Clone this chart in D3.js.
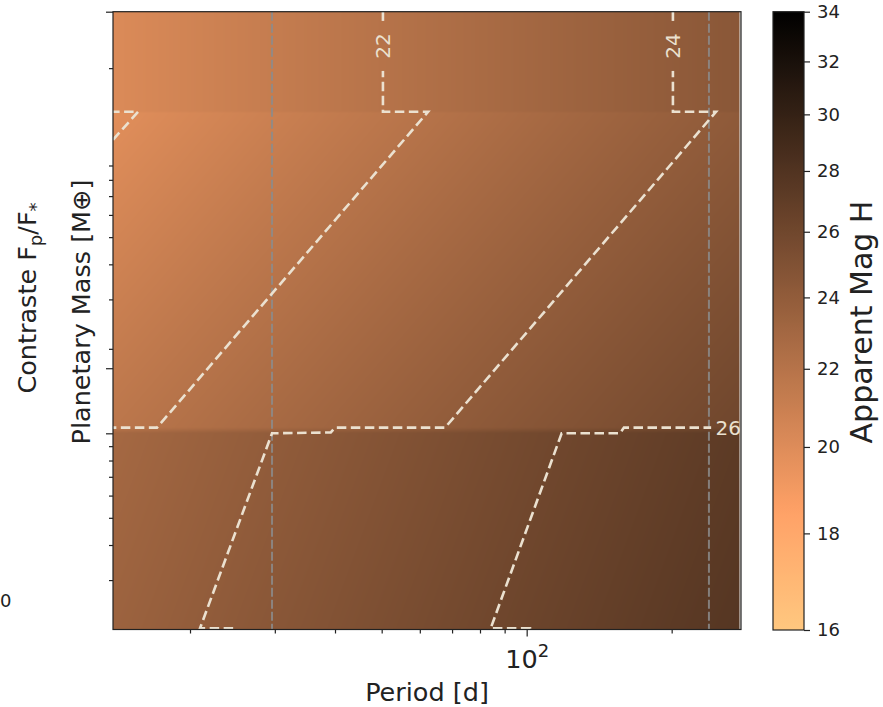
<!DOCTYPE html>
<html><head><meta charset="utf-8">
<script src="https://cdn.jsdelivr.net/npm/d3@7"></script>
<style>
body{margin:0;background:#fff}
text{font-family:"DejaVu Sans",sans-serif}
</style>
</head><body>
<svg id="chart" width="883" height="707"></svg>
<script>
// ---------------- data ----------------
const periodDomain   = [13.84, 278.6];     // Period [d], log axis
const massDomain     = [2, 317.8];         // Planetary mass [M_earth], log axis
const contrastDomain = [1.85e-9, 1e-7];    // Contraste Fp/F*, log axis (twin, unlabelled ticks)
const magDomain      = [16, 34];           // colour bar (log norm)

// apparent H magnitude grid: rows = masses, columns = periods
const gridPeriods = [13.84, 100, 276.5];
const gridMasses  = [317.8, 141, 138.5, 10.48, 10.0, 2.03, 2.0];
const magAtP0 = [20.13, 20.13, 19.82, 21.70, 22.90, 23.40, 23.14];
const magAtP1 = [22.99, 22.99, 22.68, 24.56, 25.76, 26.26, 26.00];
const magAtP2 = [24.47, 24.47, 24.16, 26.03, 27.24, 27.73, 27.48];

// dashed contour lines [period, mass]
const contour20 = [[13.84,111.1],[15.60,139.8],[13.84,139.8]];
const contour22 = [[50.3,317.8],[50.3,139.8],[62.4,139.8],[17.08,10.48],[13.84,10.48]];
const contour24 = [[201.2,317.8],[201.2,139.8],[247.2,139.8],[67.7,10.48],[40.0,10.48],[39.2,10.07],[29.6,10.0],[20.98,2.02],[25.04,2.02],[25.04,2.0]];
const contour26 = [[278.6,10.48],[159.2,10.48],[156.2,10.0],[118.2,10.0],[84.2,2.02],[101.6,2.02],[101.6,2.0]];
const contourLines = [contour20, contour22, contour24, contour26];
const contourLabels = [
  {text:"22", period:50.3,  mass:240, rotate:-90},
  {text:"24", period:201.2, mass:240, rotate:-90},
  {text:"26", period:262,   mass:10.48, rotate:0}
];

const referencePeriods = [29.6, 239.0];   // grey dashed vertical lines

const xTicksMajor = [100];
const xTicksMinor = [20,30,40,50,60,70,80,90,200];
const yTicksMajor = [10];
const yTicksMinor = [3,4,5,6,7,8,9,20,30,40,50,60,70,80,90,200];
const contrastTicks = [1e-8, 1e-7];
const cbarTicks   = [16,18,20,22,24,26,28,30,32,34];

// ---------------- layout ----------------
const W = 883, H = 707;
const L = 113, R = 741, T = 11.7, B = 629.5;
const svg = d3.select("#chart");

const x = d3.scaleLog().domain(periodDomain).range([L, R]);
const y = d3.scaleLog().domain(massDomain).range([B, T]);
const yc = d3.scaleLog().domain(contrastDomain).range([B, T]);
const cbar = d3.scaleLog().domain(magDomain).range([630, 11.7]);

// copper_r colormap with log normalisation
function copperR(mag){
  const n = Math.max(0, Math.min(1, Math.log(mag/magDomain[0]) / Math.log(magDomain[1]/magDomain[0])));
  const t = 1 - n;
  const r = Math.min(1, t/0.809524), g = 0.7812*t, b = 0.4975*t;
  return [Math.round(r*255), Math.round(g*255), Math.round(b*255)];
}

// ---------------- background image ----------------
const lgP = gridPeriods.map(Math.log10);
const lgM = gridMasses.map(Math.log10);
const cols = [magAtP0, magAtP1, magAtP2];
function rowMag(i, lp){
  let j = 0;
  while (j < lgP.length - 2 && lp > lgP[j+1]) j++;
  const f = (lp - lgP[j]) / (lgP[j+1] - lgP[j]);
  return cols[j][i]*(1-f) + cols[j+1][i]*f;
}
function magAt(p, m){
  const lp = Math.log10(p), lm = Math.log10(m);
  let i = 0;
  while (i < lgM.length - 2 && lm < lgM[i+1]) i++;
  const f = (lgM[i] - lm) / (lgM[i] - lgM[i+1]);
  return rowMag(i, lp)*(1-f) + rowMag(i+1, lp)*f;
}
const imgL = x(gridPeriods[0]), imgR = x(gridPeriods[gridPeriods.length-1]);
const cw = Math.round(imgR - imgL), ch = Math.round(B - T);
const canvas = document.createElement("canvas");
canvas.width = cw; canvas.height = ch;
const ctx = canvas.getContext("2d");
const img = ctx.createImageData(cw, ch);
for (let py = 0; py < ch; py++){
  const m = y.invert(T + py + 0.5);
  for (let px = 0; px < cw; px++){
    const p = x.invert(imgL + (px + 0.5) * (imgR - imgL) / cw);
    const c = copperR(magAt(p, m));
    const k = (py*cw + px)*4;
    img.data[k] = c[0]; img.data[k+1] = c[1]; img.data[k+2] = c[2]; img.data[k+3] = 255;
  }
}
ctx.putImageData(img, 0, 0);

const defs = svg.append("defs");
defs.append("clipPath").attr("id","plotclip").append("rect")
  .attr("x", L).attr("y", T).attr("width", R-L).attr("height", B-T);

svg.append("rect").attr("x", L).attr("y", T).attr("width", R-L).attr("height", B-T).attr("fill","#d9d6d3");
svg.append("image").attr("href", canvas.toDataURL())
  .attr("x", imgL).attr("y", T).attr("width", imgR-imgL).attr("height", B-T)
  .attr("preserveAspectRatio","none");

// reference vertical lines
const plot = svg.append("g").attr("clip-path","url(#plotclip)");
plot.selectAll("line.ref").data(referencePeriods).join("line")
  .attr("class","ref")
  .attr("x1", d=>x(d)).attr("x2", d=>x(d)).attr("y1", T).attr("y2", B)
  .attr("stroke","#8c8c8c").attr("stroke-width",2).attr("stroke-dasharray","9,3")
  .attr("opacity",0.85);

// mask to cut contour lines under labels
const mask = defs.append("mask").attr("id","labelmask");
mask.append("rect").attr("x",0).attr("y",0).attr("width",W).attr("height",H).attr("fill","#fff");
contourLabels.forEach(d=>{
  const cx = x(d.period), cy = y(d.mass);
  if (d.rotate === -90){
    mask.append("rect").attr("x", cx-10).attr("y", cy-25).attr("width",20).attr("height",50).attr("fill","#000");
  } else {
    mask.append("rect").attr("x", cx-17).attr("y", cy-10).attr("width",40).attr("height",20).attr("fill","#000");
  }
});

const lineGen = d3.line().x(d=>x(d[0])).y(d=>y(d[1]));
const contourColor = "#ebe1d0";
plot.append("g").attr("mask","url(#labelmask)")
  .selectAll("path").data(contourLines).join("path")
  .attr("d", lineGen).attr("fill","none")
  .attr("stroke", contourColor).attr("stroke-width",2.6)
  .attr("stroke-dasharray","9.5,4.5");

plot.selectAll("text.clabel").data(contourLabels).join("text")
  .attr("class","clabel")
  .attr("transform", d=>`translate(${x(d.period)},${y(d.mass)}) rotate(${d.rotate})`)
  .attr("text-anchor","middle").attr("dy","0.36em")
  .attr("font-size",20).attr("fill",contourColor)
  .text(d=>d.text);

// ---------------- axes ----------------
const axStroke = "#222";
function styleAxis(g){
  g.select(".domain").remove();
  g.selectAll("line").attr("stroke",axStroke).attr("stroke-width",1.2);
}
svg.append("g").attr("transform",`translate(0,${B})`)
  .call(d3.axisBottom(x).tickValues(xTicksMinor).tickSize(4).tickFormat(""))
  .call(styleAxis);
const xMaj = svg.append("g").attr("transform",`translate(0,${B})`)
  .call(d3.axisBottom(x).tickValues(xTicksMajor).tickSize(7).tickFormat(""))
  .call(styleAxis);
xMaj.selectAll(".tick").append("text")
  .attr("y", 38).attr("text-anchor","middle").attr("fill","#222").attr("font-size",25.5)
  .call(t=>{
    t.append("tspan").text(d=>"10");
    t.append("tspan").attr("dy",-11).attr("font-size",18).text(d=>Math.round(Math.log10(d)));
  });

svg.append("g").attr("transform",`translate(${L},0)`)
  .call(d3.axisLeft(y).tickValues(yTicksMinor).tickSize(4).tickFormat(""))
  .call(styleAxis);
svg.append("g").attr("transform",`translate(${L},0)`)
  .call(d3.axisLeft(y).tickValues(yTicksMajor).tickSize(7).tickFormat(""))
  .call(styleAxis);
svg.append("g").attr("transform",`translate(${L},0)`)
  .call(d3.axisLeft(yc).tickValues(contrastTicks).tickSize(7).tickFormat(""))
  .call(styleAxis);

// frame
svg.append("rect").attr("x",L).attr("y",T).attr("width",R-L).attr("height",B-T)
  .attr("fill","none").attr("stroke",axStroke).attr("stroke-width",1.2);

// axis labels
svg.append("text").attr("x",(L+R)/2).attr("y",701).attr("text-anchor","middle")
  .attr("font-size",25.5).attr("fill","#222").text("Period [d]");
svg.append("text").attr("transform","translate(90,312) rotate(-90)").attr("text-anchor","middle")
  .attr("font-size",25.5).attr("fill","#222").text("Planetary Mass [M⊕]");
const ct = svg.append("text").attr("transform","translate(36,298) rotate(-90)").attr("text-anchor","middle")
  .attr("font-size",25.5).attr("fill","#222");
ct.append("tspan").text("Contraste F");
ct.append("tspan").attr("font-size",18).attr("dy",6).text("p");
ct.append("tspan").attr("dy",-6).text("/F");
ct.append("tspan").attr("font-size",18).attr("dy",6).text("*");
svg.append("text").attr("x",0).attr("y",607).attr("font-size",18).attr("fill","#222").text("0");

// ---------------- colour bar ----------------
const cbX = 773, cbW = 31;
const grad = defs.append("linearGradient").attr("id","cbgrad")
  .attr("x1",0).attr("x2",0).attr("y1",1).attr("y2",0);
d3.range(0, 61).map(i => magDomain[0]*Math.pow(magDomain[1]/magDomain[0], i/60)).forEach(m=>{
  const c = copperR(m);
  grad.append("stop").attr("offset", (cbar(magDomain[0]) - cbar(m)) / (cbar(magDomain[0]) - cbar(magDomain[1])))
    .attr("stop-color", `rgb(${c[0]},${c[1]},${c[2]})`);
});
svg.append("rect").attr("x",cbX).attr("y",cbar(magDomain[1])).attr("width",cbW)
  .attr("height",cbar(magDomain[0])-cbar(magDomain[1])).attr("fill","url(#cbgrad)")
  .attr("stroke",axStroke).attr("stroke-width",1.2);
const cbAxis = svg.append("g").attr("transform",`translate(${cbX+cbW},0)`)
  .call(d3.axisRight(cbar).tickValues(cbarTicks).tickSize(6).tickPadding(7).tickFormat(d3.format("d")));
cbAxis.select(".domain").remove();
cbAxis.selectAll("line").attr("stroke",axStroke).attr("stroke-width",1.2);
cbAxis.selectAll("text").attr("font-size",18).attr("fill","#222").attr("font-family","DejaVu Sans");
svg.append("text").attr("transform","translate(872,322) rotate(-90)").attr("text-anchor","middle")
  .attr("font-size",30).attr("fill","#222").text("Apparent Mag H");
</script>
</body></html>
